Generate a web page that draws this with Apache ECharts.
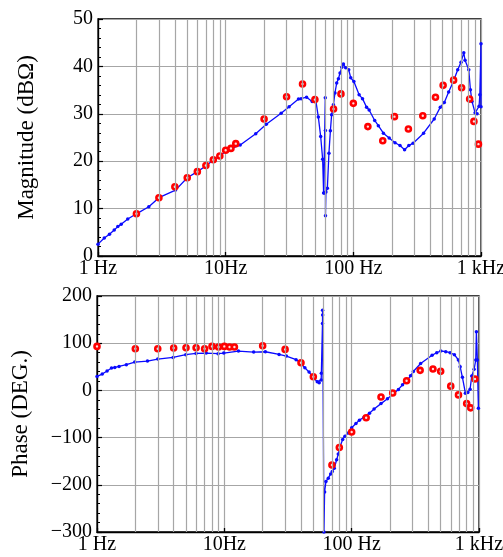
<!DOCTYPE html>
<html>
<head>
<meta charset="utf-8">
<script src="https://cdn.jsdelivr.net/npm/echarts@6/dist/echarts.min.js"></script>
<style>
html,body{margin:0;padding:0;background:#fff;}
#c{width:503px;height:557px;}
</style>
</head>
<body>
<div id="c"></div>
<script>
// Magnitude (simulation, blue line)
const magFreq = [1, 1.12, 1.23, 1.34, 1.43, 1.52, 1.71, 2.0, 2.5, 3.0, 4.05, 5.0, 6.0, 7.1, 8.0, 9.1, 10.1, 11.1, 13.0, 17.2, 20.8, 27.2, 31.4, 37.2, 39, 43, 47.6, 50.7, 53.2, 55.5, 57.5, 58.5, 59.3, 60.3, 60.4, 60.5, 61.0, 62.6, 64.4, 66.1, 67.6, 69.8, 71.8, 74.1, 76.4, 78.7, 81.2, 83.6, 87.1, 92.0, 95.4, 101, 111, 118, 127, 133, 147, 157, 172, 191, 212, 232, 252, 272, 294, 355, 430, 480, 516, 558, 607, 657, 698, 733, 750, 802, 826, 851, 899, 932, 966, 979, 1000, 1000];
const magVals = [2.5, 3.8, 4.6, 5.5, 6.2, 6.7, 7.8, 8.9, 10.4, 12.3, 13.9, 16.5, 17.8, 19.1, 20.3, 21.1, 22.3, 22.7, 23.4, 25.8, 27.8, 30.1, 31.5, 33.1, 33.2, 33.5, 32.6, 33.0, 29.3, 25.2, 20.4, 13.3, 13.3, 33.4, 26.5, 8.5, 13.5, 14.3, 21.7, 26.4, 29.8, 31.9, 34.4, 36.5, 37.4, 38.6, 39.8, 40.5, 39.7, 39.3, 37.6, 36.8, 34.0, 33.2, 31.4, 30.8, 28.6, 27.5, 25.9, 24.9, 23.9, 23.3, 22.4, 23.3, 23.8, 25.9, 28.9, 31.4, 32.4, 34.6, 36.8, 39.3, 40.9, 42.9, 41.3, 39.3, 35.1, 32.6, 30.2, 30.0, 31.6, 34.0, 44.8, 31.5];
// Magnitude (measurement, red circles)
const magMeasFreq = [2, 3, 4, 5, 6, 7, 8, 9, 10, 11, 12, 20, 30, 40, 50, 70, 80, 100, 130, 170, 210, 270, 350, 440, 505, 610, 705, 815, 880, 955];
const magMeasVals = [8.9, 12.3, 14.6, 16.5, 17.8, 19.1, 20.3, 21.1, 22.3, 22.7, 23.7, 28.9, 33.6, 36.3, 33.0, 31.0, 34.2, 32.2, 27.3, 24.3, 29.4, 26.8, 29.6, 33.5, 36.0, 37.1, 35.5, 33.1, 28.4, 23.6];
// Phase (simulation, blue line)
const phaseFreq = [1, 1.10, 1.20, 1.30, 1.38, 1.49, 1.70, 1.98, 2.49, 3.0, 3.96, 4.98, 6.0, 7.2, 8.93, 9.9, 12.9, 17.0, 21.0, 26.9, 30.7, 36.6, 39.1, 42.9, 46.3, 49.3, 53.7, 55.6, 57.6, 57.8, 59.0, 59.1, 59.2, 60.6, 61.3, 62.8, 65.5, 68.4, 70.4, 73.0, 76.2, 78.5, 81, 85, 88.5, 94, 100, 108, 115, 125, 138, 150, 170, 191, 216, 233, 251, 270, 290, 305, 348, 428, 466, 501, 548, 593, 641, 689, 711, 741, 782, 817, 851, 877, 915, 943, 954, 971, 989];
const phaseVals = [29.7, 34.6, 41, 47.3, 48.7, 50.8, 54.4, 60, 62.1, 66.4, 69.9, 75.6, 78.4, 79, 77.7, 79, 83.3, 81.2, 81.9, 76.3, 72.7, 65, 60, 48, 38.8, 29, 18.4, 16.3, 22, 36.2, 142, 170, 160, -300, -215, -193, -186, -177, -172, -165, -147, -135, -119, -104, -97, -90, -79, -70, -63, -57, -48.6, -39.5, -28, -17.7, -5.6, 2.1, 12, 19.8, 31, 40, 57, 74.4, 80, 83.5, 82, 80, 75.6, 64.4, 50.2, 27.8, -6, -4.7, 2.3, 30.5, 44.7, 64.4, 124, 64.4, -38];
// Phase (measurement, red circles)
const phaseMeasFreq = [1, 2, 3, 4, 5, 6, 7, 8, 9, 10, 11, 12, 20, 30, 40, 50, 70, 80, 100, 130, 170, 210, 270, 345, 435, 500, 600, 690, 800, 860, 930];
const phaseMeasVals = [93.2, 88.3, 88.3, 89.7, 90.4, 90.4, 88.3, 93.2, 91.8, 93.2, 91.8, 91.8, 94.6, 86.9, 58.7, 29, -158, -121, -88, -58, -14, -5.6, 20.5, 42.5, 45.3, 40.4, 9, -9.5, -28, -37, 24];
// Minor vertical grid lines (frequencies)
const minorGridFreqs = [2, 3, 4, 5, 6, 7, 8, 9, 20, 30, 40, 50, 60, 70, 80, 90, 200, 300, 400, 500, 600, 700, 800, 900];
// X tick labels
const xTickValues = [1, 10, 100, 1000];
const xTickLabels = ['1 Hz', '10Hz', '100 Hz', '1 kHz'];

const zip = (a, b) => a.map((v, i) => [v, b[i]]);
const FONT = 'Liberation Serif';
const GRAY = '#a6a6a6';

function xAxisCfg(gi) {
  return {
    type: 'log', logBase: 10, min: 1, max: 1000, gridIndex: gi,
    axisLine: { show: true, onZero: false, lineStyle: { color: '#000', width: 1.3 } },
    axisTick: { show: true, inside: true, length: 4, lineStyle: { color: '#000', width: 1.3 } },
    minorTick: { show: false },
    splitLine: { show: true, lineStyle: { color: GRAY, width: 1.2 } },
    axisLabel: {
      show: true, showMinLabel: true, showMaxLabel: true, margin: 3,
      fontFamily: FONT, fontSize: 20, color: '#000',
      formatter: function (v) {
        const i = xTickValues.findIndex(t => Math.abs(t - v) < 1e-6 * t);
        return i >= 0 ? xTickLabels[i] : '';
      }
    }
  };
}
function yAxisCfg(gi, min, max, interval, name, gap) {
  return {
    type: 'value', gridIndex: gi, min: min, max: max, interval: interval,
    name: name, nameLocation: 'middle', nameGap: gap,
    nameTextStyle: { fontFamily: FONT, fontSize: 23, color: '#000' },
    axisLine: { show: true, onZero: false, lineStyle: { color: '#000', width: 1.3 } },
    axisTick: { show: true, inside: true, length: 5, lineStyle: { color: '#000', width: 1.2 } },
    minorTick: { show: true, splitNumber: 5, length: 3, lineStyle: { color: '#000', width: 1 } },
    splitLine: { show: true, lineStyle: { color: GRAY, width: 1.2 } },
    axisLabel: {
      fontFamily: FONT, fontSize: 20, color: '#000', margin: 5,
      formatter: v => (v < 0 ? '\u2212' + Math.abs(v) : String(v))
    }
  };
}
function gridLinesSeries(xi, yi) {
  return {
    type: 'line', xAxisIndex: xi, yAxisIndex: yi, data: [], silent: true, z: 1,
    markLine: {
      silent: true, symbol: ['none', 'none'], label: { show: false }, animation: false,
      lineStyle: { color: GRAY, type: 'solid', width: 1.2 },
      emphasis: { disabled: true },
      data: minorGridFreqs.map(f => ({ xAxis: f }))
    }
  };
}
const blueLine = (xi, yi, data) => ({
  type: 'line', xAxisIndex: xi, yAxisIndex: yi, data: data, z: 3,
  symbol: 'circle', symbolSize: 3.5, showSymbol: true, showAllSymbol: true,
  lineStyle: { color: '#0a0aff', width: 1.3 }, itemStyle: { color: '#0a0aff' },
  clip: true, animation: false
});
const redPts = (xi, yi, data) => ({
  type: 'scatter', xAxisIndex: xi, yAxisIndex: yi, data: data, z: 4,
  symbol: 'circle', symbolSize: 5,
  itemStyle: { color: '#ffdddd', borderColor: '#ff0000', borderWidth: 2.6, opacity: 1 },
  clip: false, animation: false
});

const chart = echarts.init(document.getElementById('c'), null, { renderer: 'canvas' });
chart.setOption({
  animation: false,
  backgroundColor: '#fff',
  grid: [
    { left: 98, top: 19, width: 383, height: 237, show: true, borderColor: '#000', borderWidth: 1.3, backgroundColor: 'transparent', outerBoundsMode: 'none' },
    { left: 97, top: 296, width: 382, height: 236, show: true, borderColor: '#000', borderWidth: 1.3, backgroundColor: 'transparent', outerBoundsMode: 'none' }
  ],
  xAxis: [xAxisCfg(0), xAxisCfg(1)],
  yAxis: [
    yAxisCfg(0, 0, 50, 10, 'Magnitude (dBΩ)', 60),
    yAxisCfg(1, -300, 200, 100, 'Phase (DEG.)', 65)
  ],
  series: [
    gridLinesSeries(0, 0),
    gridLinesSeries(1, 1),
    blueLine(0, 0, zip(magFreq, magVals)),
    redPts(0, 0, zip(magMeasFreq, magMeasVals)),
    blueLine(1, 1, zip(phaseFreq, phaseVals)),
    redPts(1, 1, zip(phaseMeasFreq, phaseMeasVals))
  ]
});
</script>
</body>
</html>
